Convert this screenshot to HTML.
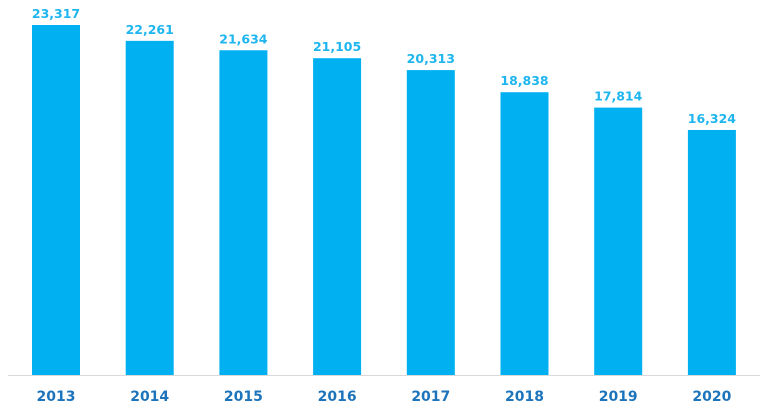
<!DOCTYPE html>
<html><head><meta charset="utf-8"><style>
html,body{margin:0;padding:0;background:#fff}
svg{display:block}
</style></head><body>
<svg id="chart" width="768" height="409" xmlns="http://www.w3.org/2000/svg">
<line x1="8" y1="375.5" x2="760" y2="375.5" stroke="#d9d9d9" stroke-width="1"/>
<g id="bars"></g>
</svg>
<script>
const categories = ["2013","2014","2015","2016","2017","2018","2019","2020"];
const values = [23317,22261,21634,21105,20313,18838,17814,16324];
const valueLabels = ["23,317","22,261","21,634","21,105","20,313","18,838","17,814","16,324"];

const baseY = 375, topPx = 25, maxV = 23317;
const x0 = 56, step = 93.7, bw = 48;
function yScale(v){ return baseY - v * (baseY - topPx) / maxV; }
function xCenter(i){ return x0 + i * step; }

const NS = "http://www.w3.org/2000/svg";
const g = document.getElementById("bars");
categories.forEach((c, i) => {
  const y = yScale(values[i]);
  const r = document.createElementNS(NS, "rect");
  r.setAttribute("x", xCenter(i) - bw/2);
  r.setAttribute("y", y);
  r.setAttribute("width", bw);
  r.setAttribute("height", baseY - y);
  r.setAttribute("fill", "#00b0f0");
  
  
  g.appendChild(r);

  const t = document.createElementNS(NS, "text");
  t.setAttribute("x", xCenter(i));
  t.setAttribute("y", y - 7);
  t.setAttribute("text-anchor", "middle");
  t.setAttribute("font-family", "DejaVu Sans, Liberation Sans, sans-serif");
  t.setAttribute("font-weight", "bold");
  t.setAttribute("font-size", "12.5");
  t.setAttribute("fill", "#1fb6ef");
  t.textContent = valueLabels[i];
  
  
  g.appendChild(t);

  const l = document.createElementNS(NS, "text");
  l.setAttribute("x", xCenter(i));
  l.setAttribute("y", 401);
  l.setAttribute("text-anchor", "middle");
  l.setAttribute("font-family", "DejaVu Sans, Liberation Sans, sans-serif");
  l.setAttribute("font-weight", "bold");
  l.setAttribute("font-size", "14");
  l.setAttribute("fill", "#1d74bb");
  l.textContent = c;
  
  
  g.appendChild(l);
});
</script>
</body></html>
